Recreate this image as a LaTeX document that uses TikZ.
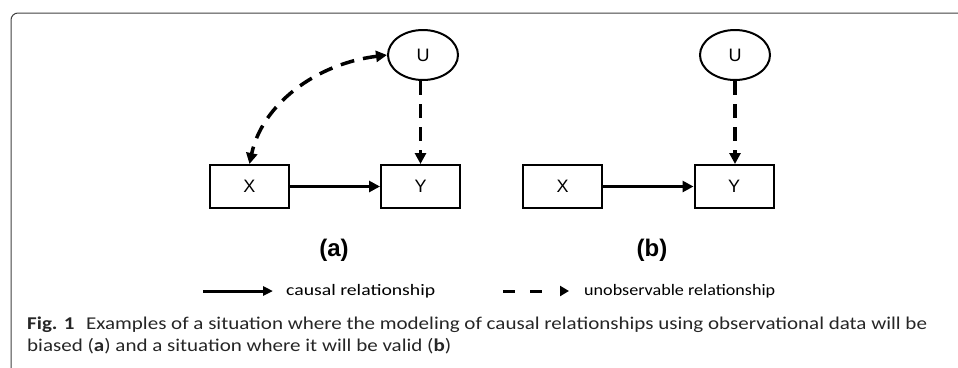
\documentclass[tikz,border=0pt]{standalone}
\usepackage{fontspec}
\usepackage{graphicx}
\setmainfont{Liberation Sans}
\newfontfamily\calfont{Carlito}
\usetikzlibrary{arrows.meta,shapes.geometric}
\begin{document}
\begin{tikzpicture}[x=1pt,y=-1pt,
  box/.style={draw, line width=2pt, minimum width=79pt, minimum height=43pt, inner sep=0pt, font=\fontsize{18}{20}\selectfont},
  latent/.style={draw, ellipse, line width=2pt, minimum width=70pt, minimum height=50pt, inner sep=0pt, font=\fontsize{18}{20}\selectfont},
  cause/.style={line width=3.5pt, -{Triangle[length=11pt,width=11pt]}},
  hidden/.style={line width=3.5pt, dash pattern=on 14pt off 9pt, -{Triangle[length=11pt,width=11pt]}},
  bihidden/.style={line width=3.5pt, dash pattern=on 14pt off 9pt, {Triangle[length=11pt,width=11pt]}-{Triangle[length=11pt,width=11pt]}},
  panel/.style={font=\bfseries\fontsize{24}{26}\selectfont, inner sep=0pt},
  legtext/.style={anchor=base west, inner sep=0pt, font=\calfont\fontsize{16}{18}\selectfont},
]
\useasboundingbox (0,0) rectangle (958,367);
% frame
\draw[line width=1pt, black!75, rounded corners=7pt] (11,368) -- (11,13) -- (960,13);

% panel (a)
\node[box] (Xa) at (249.5,186.5) {X};
\node[box] (Ya) at (420.5,186.5) {Y};
\node[latent] (Ua) at (423,55) {U};
\draw[cause] (Xa.east) -- (Ya.west);
\draw[hidden] (Ua.south -| Ya.north) -- (Ya.north);
\draw[bihidden] (Ua.west) .. controls (315,64) and (262,105) .. (Xa.north);
\node[panel] (la) at (334,250) {(a)};

% panel (b)
\node[box] (Xb) at (562.5,186.5) {X};
\node[box] (Yb) at (734,186.5) {Y};
\node[latent] (Ub) at (735,55) {U};
\draw[cause] (Xb.east) -- (Yb.west);
\draw[hidden] (Ub.south) -- (Ub.south |- Yb.north);
\node[panel] (lb) at (652,250) {(b)};

% legend
\coordinate (s1) at (203,291);
\coordinate (s2) at (273,291);
\draw[line width=3pt, -{Triangle[length=10pt,width=9pt]}] (s1) -- (s2);
\node[legtext] (st) at (286,295) {\resizebox{149pt}{\height}{causal relationship}};
\coordinate (d1) at (503,291);
\coordinate (d2) at (569,291);
\draw[line width=3pt, dash pattern=on 12pt off 15pt on 12pt off 60pt, -{Triangle[length=9pt,width=10pt]}] (d1) -- (d2);
\node[legtext] (dt) at (584,295) {\resizebox{191pt}{\height}{unobservable relationship}};

% caption
\node[anchor=base west, inner sep=0pt, text=black!85] (cap) at (27,329)
  {\resizebox{900pt}{\height}{\calfont\fontsize{18}{22}\selectfont\begin{tabular}[t]{@{}l@{}}\textbf{Fig. 1}\hspace{0.55em}Examples of a situation where the modeling of causal relationships using observational data will be\\biased (\textbf{a}) and a situation where it will be valid (\textbf{b})\end{tabular}}};
\end{tikzpicture}
\end{document}
